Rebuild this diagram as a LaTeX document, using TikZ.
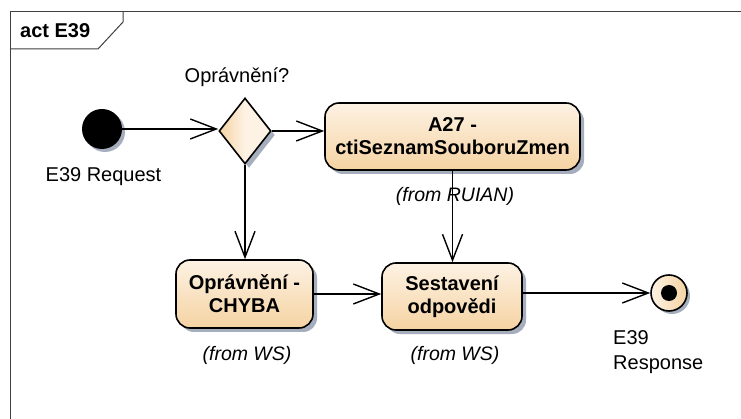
\documentclass[tikz,border=0pt]{standalone}
\usepackage{fontspec}
\setmainfont{Liberation Sans}
\usetikzlibrary{arrows.meta,shapes.geometric,shadows}
\definecolor{fillTop}{HTML}{FDF2E4}
\definecolor{fillBot}{HTML}{F5D3A2}
\definecolor{shadowgray}{HTML}{A6ADBD}
\definecolor{framegray}{HTML}{404040}
\tikzset{
  actbox/.style={draw=black, line width=1.6pt, rounded corners=14pt,
    top color=fillTop, bottom color=fillBot, align=center,
    font=\fontsize{20}{23}\selectfont\bfseries, inner sep=0pt,
    drop shadow={shadow xshift=4pt, shadow yshift=-4pt, fill=shadowgray, opacity=1}},
  decbox/.style={diamond, draw=black, line width=1.6pt, inner sep=0pt,
    left color=fillBot, right color=fillTop, middle color=fillTop,
    minimum width=52pt, minimum height=66pt,
    drop shadow={shadow xshift=4pt, shadow yshift=-4pt, fill=shadowgray, opacity=1}},
  lbl/.style={font=\fontsize{20}{25}\selectfont, inner sep=0pt, align=center},
  fromlbl/.style={font=\fontsize{19.5}{23}\selectfont\itshape, inner sep=0pt},
  flow/.style={line width=1.4pt, -{Straight Barb[length=26pt, width=20pt, line width=1.4pt]}},
}
\begin{document}
\begin{tikzpicture}[x=1pt, y=-1pt]
\useasboundingbox (0,0) rectangle (741,419);
\fill[white] (0,0) rectangle (741,419);
% frame
\draw[framegray, line width=1pt] (10,419) -- (10,12) -- (741,12);
\draw[framegray, line width=1pt] (10,49) -- (98,49) -- (123,22) -- (123,12);
\node[anchor=west, font=\fontsize{20}{23}\selectfont\bfseries, inner sep=0pt] (title) at (20,31) {act E39};
% nodes
\node[circle, fill=black, minimum size=40pt, inner sep=0pt,
  drop shadow={shadow xshift=3pt, shadow yshift=-3pt, fill=shadowgray, opacity=1}] (start) at (102,129) {};
\node[lbl] (startlbl) at (103.5,177) {E39 Request};
\node[decbox] (dec) at (245,131) {};
\node[lbl] (declbl) at (237,77) {Oprávnění?};
\node[actbox, minimum width=255pt, minimum height=67pt] (a27) at (452.5,136.5) {A27 -\\ctiSeznamSouboruZmen};
\node[fromlbl] (a27lbl) at (455,196) {(from RUIAN)};
\node[actbox, minimum width=137pt, minimum height=68pt] (chyba) at (244.5,294) {Oprávnění -\\CHYBA};
\node[fromlbl] (chybalbl) at (247,355) {(from WS)};
\node[actbox, minimum width=140pt, minimum height=67pt] (sest) at (452,296.5) {Sestavení\\odpovědi};
\node[fromlbl] (sestlbl) at (455,355) {(from WS)};
\node[circle, draw=black, line width=1.6pt, minimum size=36pt, inner sep=0pt,
  left color=fillTop, right color=fillBot,
  drop shadow={shadow xshift=3pt, shadow yshift=-3pt, fill=shadowgray, opacity=1}] (final) at (669,293) {};
\node[circle, fill=black, minimum size=16pt, inner sep=0pt] (finaldot) at (final.center) {};
\node[lbl, anchor=north west, align=left] (finallbl) at (613,330) {E39\\Response};
% flows
\draw[flow] (start.east) -- (start.east -| dec.west);
\draw[flow] (dec.east) -- (dec.east -| a27.west);
\draw[flow] (dec.south) -- (dec.south |- chyba.north);
\draw[flow] (a27.south) -- (a27.south |- sest.north);
\draw[flow] (chyba.east) -- (chyba.east -| sest.west);
\draw[flow] (final.west -| sest.east) -- (final.west);
\end{tikzpicture}
\end{document}
